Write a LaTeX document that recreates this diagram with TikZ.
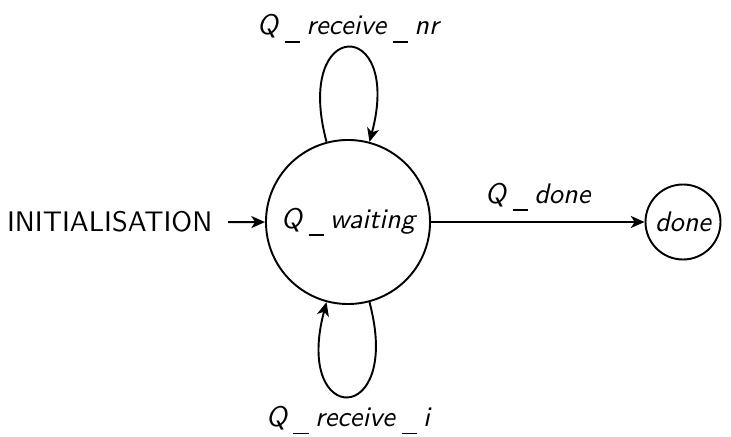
\documentclass[tikz,border=0pt]{standalone}
\usetikzlibrary{arrows.meta}
\newcommand\usc{\hspace{2.4pt}\rule[-2.9pt]{5.5pt}{0.6pt}\hspace{2.4pt}}
\newcommand\fs{\fontsize{10.3}{12}\selectfont\sffamily}
\begin{document}
\begin{tikzpicture}[x=0.3639pt,y=0.3639pt,
  every node/.style={font=\fs},
  state/.style={draw,circle,line width=0.7pt,inner sep=0pt,font=\fs\itshape},
  conn/.style={line width=0.7pt,-{Stealth[length=5pt,width=4.4pt,inset=1.4pt]}},
  lbl/.style={font=\fs\itshape,inner sep=0pt}]
\useasboundingbox (0,0) rectangle (731,436);
\node[state,minimum size=59.7pt] (waiting) at (348,214) {Q\usc waiting};
\node[state,minimum size=27.3pt] (done) at (683,214) {done};
\node[anchor=base east,inner xsep=5.5pt,inner ysep=0pt] (init) at (228,204) {INITIALISATION};
\draw[conn] (init) -- (waiting);
\draw[conn] (waiting) -- node[lbl,anchor=base,yshift=6.9pt] {Q\usc done} (done);
\draw[conn] (waiting.105) .. controls +(105:130) and +(75:130) .. node[lbl,pos=0.5,anchor=base,yshift=4.7pt] {Q\usc receive\usc nr} (waiting.75);
\draw[conn] (waiting.-75) .. controls +(-75:130) and +(-105:130) .. node[lbl,pos=0.5,anchor=base,yshift=-10.9pt] {Q\usc receive\usc i} (waiting.-105);
\end{tikzpicture}
\end{document}
